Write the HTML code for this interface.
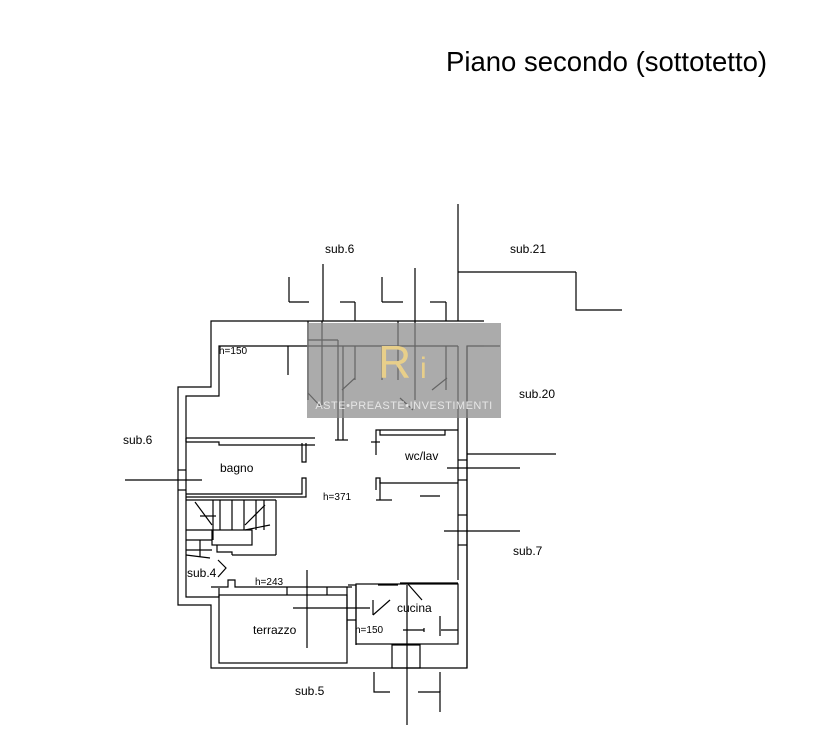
<!DOCTYPE html>
<html><head><meta charset="utf-8"><style>
html,body{margin:0;padding:0;background:#fff;}
svg{display:block;}
text{font-family:"Liberation Sans",Arial,sans-serif;fill:#000;}
</style></head><body>
<svg width="818" height="746" viewBox="0 0 818 746" xmlns="http://www.w3.org/2000/svg">
<text x="446" y="71" font-size="27.5">Piano secondo (sottotetto)</text>
<g stroke="#000" stroke-width="1.2" fill="none">
<polyline points="484,321 211,321 211,387 178,387 178,605 211,605 211,668 467,668 467,346 484,346"/>
<polyline points="458,346 219,346 219,396 186,396 186,597 219,597 219,588"/>
<line x1="458" y1="346" x2="458" y2="580"/>
<line x1="467" y1="346" x2="467" y2="668"/>
<line x1="458" y1="204" x2="458" y2="321"/>
<line x1="458" y1="272" x2="576" y2="272"/>
<polyline points="576,272 576,310 622,310"/>
<line x1="289" y1="277" x2="289" y2="302"/><line x1="289" y1="302" x2="309" y2="302"/>
<line x1="323" y1="264" x2="323" y2="321"/><line x1="340" y1="302" x2="355" y2="302"/><line x1="355" y1="302" x2="355" y2="321"/>
<line x1="382" y1="277" x2="382" y2="302"/><line x1="382" y1="302" x2="403" y2="302"/>
<line x1="415" y1="268" x2="415" y2="400"/><line x1="430" y1="302" x2="446" y2="302"/><line x1="446" y1="302" x2="446" y2="321"/>
<line x1="308" y1="321" x2="308" y2="400"/><line x1="322" y1="321" x2="322" y2="405"/>
<line x1="308" y1="340" x2="338" y2="340"/><line x1="338" y1="340" x2="338" y2="440"/><line x1="343" y1="346" x2="343" y2="440"/>
<line x1="335" y1="440" x2="348" y2="440"/>
<line x1="355" y1="346" x2="355" y2="380"/><line x1="398" y1="321" x2="398" y2="380"/><line x1="382" y1="346" x2="382" y2="380"/>
<line x1="342" y1="390" x2="355" y2="378"/><line x1="308" y1="393" x2="322" y2="408"/>
<line x1="400" y1="398" x2="413" y2="410"/><line x1="432" y1="390" x2="447" y2="378"/>
<line x1="446" y1="346" x2="446" y2="390"/><line x1="288" y1="346" x2="288" y2="375"/>
<line x1="484" y1="346" x2="500" y2="346"/>
<line x1="467" y1="454" x2="556" y2="454"/><line x1="447" y1="468" x2="520" y2="468"/>
<line x1="458" y1="460" x2="467" y2="460"/><line x1="458" y1="480" x2="467" y2="480"/>
<line x1="444" y1="531" x2="520" y2="531"/><line x1="458" y1="515" x2="467" y2="515"/><line x1="458" y1="545" x2="467" y2="545"/>
<polyline points="376,455 376,430 458,430"/><polyline points="380,430 380,435 445,435 445,430"/>
<line x1="371" y1="442" x2="380" y2="442"/>
<polyline points="376,490 376,478 380,478 380,483 458,483"/>
<line x1="376" y1="500" x2="392" y2="500"/><line x1="380" y1="480" x2="380" y2="500"/>
<line x1="420" y1="496" x2="440" y2="496"/>
<polyline points="186,442 219,442 219,445 315,445"/><line x1="186" y1="438" x2="186" y2="442"/>
<line x1="186" y1="438" x2="315" y2="438"/>
<polyline points="302,443 302,462 306,462 306,443"/>
<polyline points="186,494 302,494 302,478 306,478 306,497 186,497"/>
<line x1="125" y1="480" x2="202" y2="480"/>
<line x1="178" y1="470" x2="186" y2="470"/><line x1="178" y1="490" x2="186" y2="490"/>
<line x1="186" y1="500" x2="276" y2="500"/><line x1="276" y1="500" x2="276" y2="555"/>
<line x1="276" y1="555" x2="232" y2="555"/><polyline points="232,555 232,552 217,552 217,545"/>
<line x1="200" y1="516" x2="216" y2="516"/>
<line x1="186" y1="540" x2="212" y2="540"/><line x1="186" y1="550" x2="212" y2="550"/><line x1="186" y1="530" x2="212" y2="530"/>
<line x1="213" y1="500" x2="213" y2="540"/><line x1="220" y1="500" x2="220" y2="530"/><line x1="232" y1="500" x2="232" y2="530"/><line x1="244" y1="500" x2="244" y2="530"/><line x1="256" y1="500" x2="256" y2="530"/><line x1="264" y1="500" x2="264" y2="530"/>
<rect x="212" y="530" width="40" height="15"/>
<line x1="195" y1="502" x2="212" y2="525"/><line x1="245" y1="525" x2="265" y2="505"/><line x1="245" y1="530" x2="270" y2="525"/>
<line x1="200" y1="557" x2="200" y2="540"/><line x1="186" y1="555" x2="210" y2="558"/>
<polyline points="218,560 226,568 218,577"/>
<rect x="219" y="595" width="128" height="68"/>
<polyline points="211,587 228,587 228,580 235,580 235,587 352,587"/>
<line x1="287" y1="587" x2="287" y2="595"/><line x1="327" y1="587" x2="327" y2="595"/><line x1="347" y1="587" x2="347" y2="630"/>
<line x1="307" y1="570" x2="307" y2="648"/><line x1="293" y1="608" x2="370" y2="608"/>
<line x1="347" y1="620" x2="356" y2="620"/><line x1="356" y1="585" x2="356" y2="645"/>
<polyline points="348,585 356,585"/>
<rect x="356" y="584" width="102" height="60"/>
<line x1="378" y1="585" x2="398" y2="585"/><line x1="400" y1="583" x2="458" y2="583"/>
<line x1="407" y1="583" x2="422" y2="600"/><line x1="373" y1="615" x2="390" y2="600"/><line x1="373" y1="600" x2="373" y2="615"/>
<line x1="403" y1="630" x2="424" y2="630"/><line x1="441" y1="630" x2="458" y2="630"/><line x1="440" y1="616" x2="440" y2="636"/>
<rect x="392" y="645" width="28" height="23"/>
<line x1="407" y1="585" x2="407" y2="725"/>
<polyline points="374,672 374,692 390,692"/><polyline points="418,692 440,692 440,712"/><line x1="440" y1="672" x2="440" y2="692"/>
<line x1="424" y1="628" x2="424" y2="632"/>
</g>
<rect x="307" y="323" width="194" height="95" fill="#8a8a8a" opacity="0.72"/>
<text x="378" y="378" font-size="46" font-family="Liberation Serif,serif" style="fill:#e8cf8a">R</text>
<text x="420" y="378" font-size="30" font-family="Liberation Serif,serif" style="fill:#e8cf8a">i</text>
<text x="404" y="409" font-size="11" text-anchor="middle" font-family="Liberation Serif,serif" style="fill:#e6e6e6" letter-spacing="0.5">ASTE•PREASTE•INVESTIMENTI</text>
<g font-size="12">
<text x="325" y="253">sub.6</text>
<text x="510" y="253">sub.21</text>
<text x="519" y="398">sub.20</text>
<text x="123" y="444">sub.6</text>
<text x="513" y="555">sub.7</text>
<text x="187" y="577">sub.4</text>
<text x="295" y="695">sub.5</text>
<text x="220" y="472">bagno</text>
<text x="405" y="460">wc/lav</text>
<text x="397" y="612">cucina</text>
<text x="253" y="634">terrazzo</text>
</g>
<g font-size="10" style="fill:#333">
<text x="219" y="354">h=150</text>
<text x="323" y="500">h=371</text>
<text x="255" y="585">h=243</text>
<text x="355" y="633">h=150</text>
</g>
</svg>
</body></html>
